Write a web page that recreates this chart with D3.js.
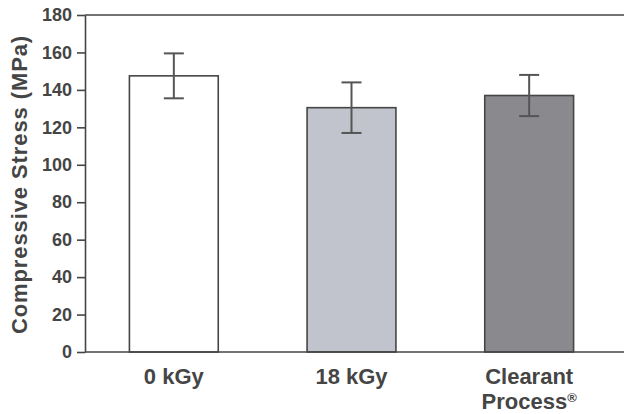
<!DOCTYPE html>
<html>
<head>
<meta charset="utf-8">
<script src="https://cdn.jsdelivr.net/npm/d3@7"></script>
<style>
  html, body { margin: 0; padding: 0; background: #fff; }
  svg { display: block; font-family: "Liberation Sans", Arial, sans-serif; }
</style>
</head>
<body>
<svg id="chart" width="624" height="414"></svg>
<script>
// ----------------------------
// Data
// ----------------------------
const categories = ["0 kGy", "18 kGy", "Clearant Process"];
const labelLines = [["0 kGy"], ["18 kGy"], ["Clearant", "Process"]];
const labelMarks = ["", "", "®"];
const means = [147.5, 130.5, 137];
const errors = [12, 13.5, 11];
const fills = ["#ffffff", "#c1c4cc", "#8a8a8e"];
const yTicks = [0, 20, 40, 60, 80, 100, 120, 140, 160, 180];

// ----------------------------
// Layout
// ----------------------------
const svg = d3.select("#chart");
const width = +svg.attr("width");
const ink = "#454545";

const x = d3.scaleBand()
  .domain(categories)
  .range([85, 618])
  .paddingInner(0.5)
  .paddingOuter(0.25);

const y = d3.scaleLinear().domain([0, 180]).range([352, 15]);

// ----------------------------
// Bars + error bars
// ----------------------------
const data = categories.map((c, i) => ({ c, m: means[i], e: errors[i], f: fills[i] }));

svg.append("g").selectAll("rect")
  .data(data)
  .join("rect")
  .attr("x", d => x(d.c))
  .attr("y", d => y(d.m))
  .attr("width", x.bandwidth())
  .attr("height", d => y(0) - y(d.m))
  .attr("fill", d => d.f)
  .attr("stroke", ink)
  .attr("stroke-width", 1.6);

const capW = 20;
const err = svg.append("g")
  .attr("stroke", "#555")
  .attr("stroke-width", 2)
  .selectAll("g")
  .data(data)
  .join("g")
  .attr("transform", d => `translate(${x(d.c) + x.bandwidth() / 2},0)`);

err.append("line")
  .attr("y1", d => y(d.m + d.e))
  .attr("y2", d => y(d.m - d.e));
err.append("line")
  .attr("x1", -capW / 2).attr("x2", capW / 2)
  .attr("y1", d => y(d.m + d.e)).attr("y2", d => y(d.m + d.e));
err.append("line")
  .attr("x1", -capW / 2).attr("x2", capW / 2)
  .attr("y1", d => y(d.m - d.e)).attr("y2", d => y(d.m - d.e));

// ----------------------------
// Axes
// ----------------------------
const yAxis = svg.append("g")
  .attr("transform", "translate(85,0)")
  .call(d3.axisLeft(y).tickValues(yTicks).tickSize(8).tickSizeOuter(0).tickPadding(5));

yAxis.selectAll("path, line").attr("stroke", ink).attr("stroke-width", 1.6);
yAxis.selectAll("text")
  .attr("fill", ink)
  .attr("font-size", 18)
  .attr("font-weight", "bold");

// top frame and baseline run off the right edge
[0, 180].forEach(v => {
  svg.append("line")
    .attr("x1", 85).attr("x2", width)
    .attr("y1", y(v)).attr("y2", y(v))
    .attr("stroke", ink)
    .attr("stroke-width", 1.6);
});

const xAxis = svg.append("g")
  .attr("transform", `translate(0,${y(0)})`)
  .call(d3.axisBottom(x).tickSize(0).tickFormat(""));
xAxis.select(".domain").remove();

xAxis.selectAll(".tick text")
  .attr("fill", ink)
  .attr("font-size", 22)
  .attr("font-weight", "bold")
  .attr("y", 32)
  .attr("dy", 0)
  .each(function (d, i) {
    const t = d3.select(this);
    labelLines[i].forEach((ln, j) => {
      t.append("tspan")
        .attr("x", 0)
        .attr("dy", j === 0 ? 0 : 25)
        .text(ln);
    });
    if (labelMarks[i]) {
      t.append("tspan")
        .attr("font-size", 13)
        .attr("baseline-shift", "super")
        .text(labelMarks[i]);
    }
  });

// ----------------------------
// Axis title
// ----------------------------
svg.append("text")
  .attr("transform", `translate(27,${(y(0) + y(180)) / 2 + 1}) rotate(-90)`)
  .attr("text-anchor", "middle")
  .attr("fill", ink)
  .attr("font-size", 22)
  .attr("font-weight", "bold")
  .attr("letter-spacing", 0.9)
  .text("Compressive Stress (MPa)");
</script>
</body>
</html>
